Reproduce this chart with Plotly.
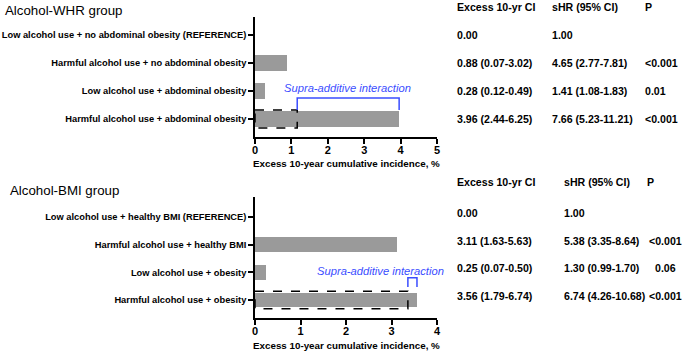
import plotly.graph_objects as go

# ---------------- data ----------------
whr_groups = [
    "Low alcohol use + no abdominal obesity (REFERENCE)",
    "Harmful alcohol use + no abdominal obesity",
    "Low alcohol use + abdominal obesity",
    "Harmful alcohol use + abdominal obesity",
]
whr_excess = [0.00, 0.88, 0.28, 3.96]
whr_excess_ci = ["0.00", "0.88 (0.07-3.02)", "0.28 (0.12-0.49)", "3.96 (2.44-6.25)"]
whr_shr = ["1.00", "4.65 (2.77-7.81)", "1.41 (1.08-1.83)", "7.66 (5.23-11.21)"]
whr_p = ["", "<0.001", "0.01", "<0.001"]
whr_ticks = [0, 1, 2, 3, 4, 5]

bmi_groups = [
    "Low alcohol use + healthy BMI (REFERENCE)",
    "Harmful alcohol use + healthy BMI",
    "Low alcohol use + obesity",
    "Harmful alcohol use + obesity",
]
bmi_excess = [0.00, 3.11, 0.25, 3.56]
bmi_excess_ci = ["0.00", "3.11 (1.63-5.63)", "0.25 (0.07-0.50)", "3.56 (1.79-6.74)"]
bmi_shr = ["1.00", "5.38 (3.35-8.64)", "1.30 (0.99-1.70)", "6.74 (4.26-10.68)"]
bmi_p = ["", "<0.001", "0.06", "<0.001"]
bmi_ticks = [0, 1, 2, 3, 4]

titles = ["Alcohol-WHR group", "Alcohol-BMI group"]
headers = ["Excess 10-yr CI", "sHR (95% CI)", "P"]
x_title = "Excess 10-year cumulative incidence, %"
interaction_label = "Supra-additive interaction"

# ---------------- layout helpers ----------------
W, H = 685, 352
FONT = "Liberation Sans, Arial, sans-serif"
BAR_COLOR = "#9a9a9a"
BLUE = "#3a4dff"
TABLE_SIZE = 10.6


def px(x):
    return x / W


def py(y):
    return 1 - y / H


fig = go.Figure()
rows = [0, 1, 2, 3]

fig.add_trace(go.Bar(x=whr_excess, y=rows, orientation="h", width=0.54,
                     marker=dict(color=BAR_COLOR, line=dict(width=0)),
                     xaxis="x", yaxis="y", showlegend=False, hoverinfo="skip"))
fig.add_trace(go.Bar(x=bmi_excess, y=rows, orientation="h", width=0.54,
                     marker=dict(color=BAR_COLOR, line=dict(width=0)),
                     xaxis="x2", yaxis="y2", showlegend=False, hoverinfo="skip"))

axis_common = dict(showline=True, linecolor="black", linewidth=1.5, ticks="outside",
                   tickcolor="black", tickwidth=1.5, showgrid=False, zeroline=False,
                   fixedrange=True, automargin=False)
xtickfont = dict(family=FONT, size=11, color="black", weight="bold")
ytickfont = dict(family=FONT, size=9.3, color="black", weight="bold")

fig.update_layout(
    width=W, height=H,
    margin=dict(l=0, r=0, t=0, b=0, autoexpand=False),
    paper_bgcolor="white", plot_bgcolor="white",
    bargap=0,
    xaxis=dict(domain=[px(255), px(437)], range=[0, 5], tickvals=whr_ticks,
               ticklen=5, anchor="y", tickfont=xtickfont, ticklabelstandoff=-3,
               **axis_common),
    yaxis=dict(domain=[py(137), py(17)], range=[3.64, -0.64], tickvals=rows,
               ticktext=whr_groups, ticklen=5, anchor="x", tickfont=ytickfont,
               **axis_common),
    xaxis2=dict(domain=[px(255), px(437)], range=[0, 4], tickvals=bmi_ticks,
                ticklen=5, anchor="y2", tickfont=xtickfont, ticklabelstandoff=-3,
                **axis_common),
    yaxis2=dict(domain=[py(318), py(197)], range=[3.65, -0.72], tickvals=rows,
                ticktext=bmi_groups, ticklen=5, anchor="x2", tickfont=ytickfont,
                **axis_common),
)

shapes = []
annotations = []

panels = [
    dict(xr="x", yr="y", excess=whr_excess, ci=whr_excess_ci, shr=whr_shr, p=whr_p,
         br=(2.25, 2.68), label_x=2.55, label_y=1.9, title_xy=(3, 10), head_y=7,
         axtitle_y=163, cols=(455, 550), pcol=643, panchor="left", phead=643, yshift=0),
    dict(xr="x2", yr="y2", excess=bmi_excess, ci=bmi_excess_ci, shr=bmi_shr, p=bmi_p,
         br=(2.2, 2.53), label_x=2.76, label_y=1.95, title_xy=(8, 190), head_y=182,
         axtitle_y=345, cols=(455, 562), pcol=665, panchor="center", phead=645, yshift=4),
]

for i, pnl in enumerate(panels):
    xr, yr = pnl["xr"], pnl["yr"]
    ex = pnl["excess"]
    additive = ex[1] + ex[2]
    combined = ex[3]
    # dashed box = sum of individual excess risks
    shapes.append(dict(type="rect", xref=xr, yref=yr, x0=0, x1=additive,
                       y0=3 - 0.32, y1=3 + 0.32,
                       line=dict(color="black", width=1.5, dash="dash"),
                       fillcolor="rgba(0,0,0,0)", layer="above"))
    # bracket from additive to combined
    b0, b1 = pnl["br"]
    shapes.append(dict(type="path", xref=xr, yref=yr,
                       path=f"M {additive},{b1} L {additive},{b0} L {combined},{b0} L {combined},{b1}",
                       line=dict(color=BLUE, width=1.5)))
    annotations.append(dict(xref=xr, yref=yr, x=pnl["label_x"], y=pnl["label_y"],
                            text=interaction_label, showarrow=False,
                            font=dict(family=FONT, size=11.2, color=BLUE, style="italic"),
                            xanchor="center", yanchor="middle"))
    # panel title
    tx, ty = pnl["title_xy"]
    annotations.append(dict(xref="paper", yref="paper", x=px(tx), y=py(ty),
                            text=titles[i], showarrow=False, xanchor="left",
                            yanchor="middle",
                            font=dict(family=FONT, size=13.3, color="black")))
    # axis title
    annotations.append(dict(xref="paper", yref="paper", x=px(346), y=py(pnl["axtitle_y"]),
                            text=x_title, showarrow=False, xanchor="center",
                            yanchor="middle",
                            font=dict(family=FONT, size=9.8, color="black", weight="bold")))
    # table headers
    c1, c2 = pnl["cols"]
    hx = [c1, c2, pnl["phead"]]
    for h, x in zip(headers, hx):
        annotations.append(dict(xref="paper", yref="paper", x=px(x), y=py(pnl["head_y"]),
                                text=h, showarrow=False, xanchor="left", yanchor="middle",
                                font=dict(family=FONT, size=TABLE_SIZE, color="black",
                                          weight="bold")))
    # table rows
    for r in rows:
        for txt, x, anc in [(pnl["ci"][r], c1, "left"), (pnl["shr"][r], c2, "left"),
                            (pnl["p"][r], pnl["pcol"], pnl["panchor"])]:
            if not txt:
                continue
            annotations.append(dict(xref="paper", yref=yr, x=px(x), y=r,
                                    yshift=pnl["yshift"], text=txt, showarrow=False,
                                    xanchor=anc, yanchor="middle",
                                    font=dict(family=FONT, size=TABLE_SIZE, color="black",
                                              weight="bold")))

fig.update_layout(shapes=shapes, annotations=annotations)
fig.write_html("out.html", config={"displayModeBar": False},
               post_script="document.body.style.margin='0';document.body.style.overflow='hidden';")
